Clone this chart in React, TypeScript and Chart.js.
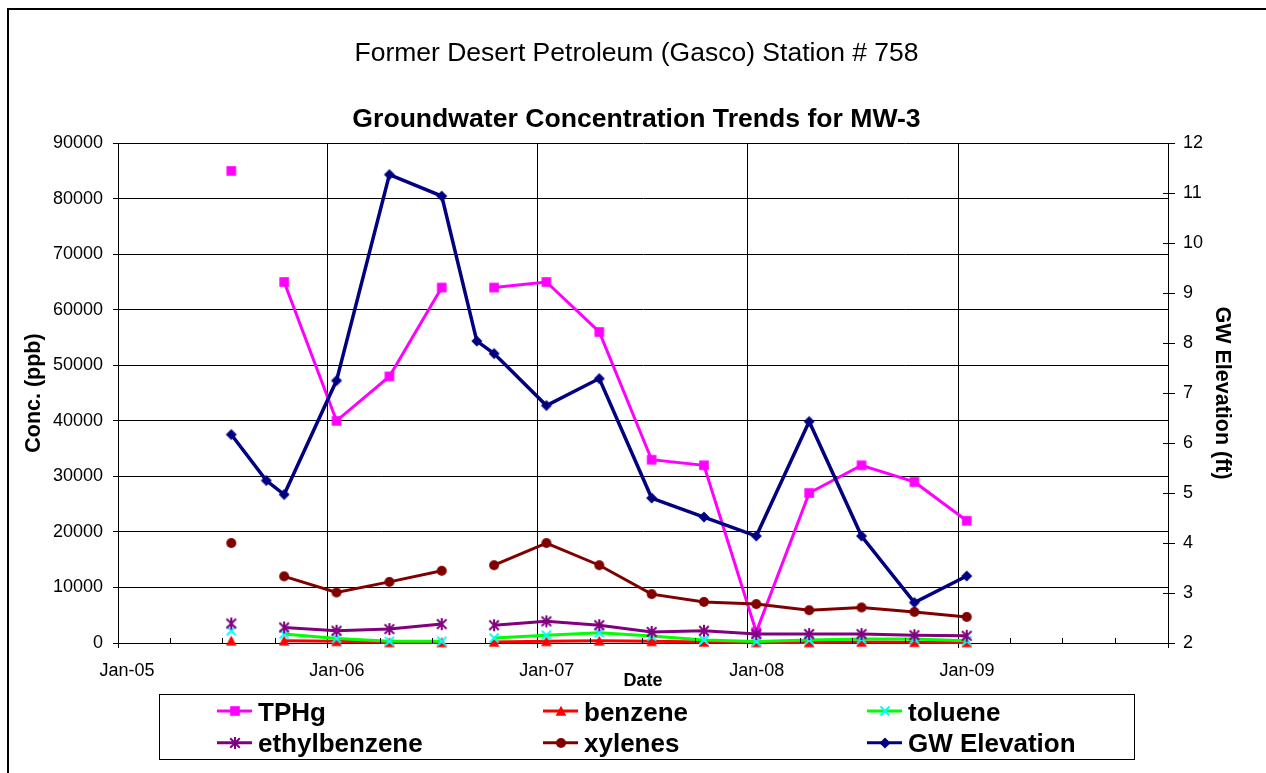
import React, { useEffect, useRef } from 'react';
import { Chart, registerables } from 'chart.js';

Chart.register(...registerables);

// ---------------- data ----------------
const TITLE = 'Former Desert Petroleum (Gasco) Station # 758';
const SUBTITLE = 'Groundwater Concentration Trends for MW-3';
const X_TITLE = 'Date';
const Y_TITLE = 'Conc. (ppb)';
const Y2_TITLE = 'GW Elevation (ft)';

const sampleDates = [
  '2005-07-17', '2005-09-16', '2005-10-17', '2006-01-16', '2006-04-18', '2006-07-18',
  '2006-09-17', '2006-10-17', '2007-01-16', '2007-04-18', '2007-07-18', '2007-10-17',
  '2008-01-16', '2008-04-17', '2008-07-17', '2008-10-17', '2009-01-16',
];

const tphg = [85000, null, 65000, 40000, 48000, 64000, null, 64000, 65000, 56000, 33000, 32000, 2000, 27000, 32000, 29000, 22000];
const benzene = [400, null, 400, 300, 100, 100, null, 200, 300, 400, 300, 200, 100, 100, 200, 150, 100];
const toluene = [2200, null, 1600, 800, 300, 300, null, 900, 1400, 1850, 1250, 550, 250, 550, 700, 700, 400];
const ethylbenzene = [3500, null, 2800, 2200, 2500, 3400, null, 3200, 3900, 3200, 2000, 2200, 1600, 1600, 1600, 1400, 1300];
const xylenes = [18000, null, 12000, 9100, 11000, 13000, null, 14000, 18000, 14000, 8800, 7400, 7000, 5900, 6400, 5600, 4700];
const gwElevation = [6.17, 5.25, 4.97, 7.25, 11.37, 10.94, 8.04, 7.79, 6.75, 7.29, 4.9, 4.52, 4.14, 6.43, 4.14, 2.81, 3.34];

const yearTicks = [2005, 2006, 2007, 2008, 2009, 2010];
const yearLabels = ['Jan-05', 'Jan-06', 'Jan-07', 'Jan-08', 'Jan-09', ''];
const quarterMonths = [3, 6, 9];

const FONT = "'Liberation Sans', Arial, Helvetica, sans-serif";

// ---------------- helpers ----------------
const toMs = (d: string) => {
  const [y, m, dd] = d.split('-').map(Number);
  return Date.UTC(y, m - 1, dd);
};

function makeMarker(kind: string, color: string): HTMLCanvasElement {
  const size = 16;
  const c = document.createElement('canvas');
  c.width = size;
  c.height = size;
  const g = c.getContext('2d')!;
  const m = size / 2;
  g.fillStyle = color;
  g.strokeStyle = color;
  g.lineCap = 'butt';
  switch (kind) {
    case 'square':
      g.fillRect(m - 4.8, m - 4.8, 9.6, 9.6);
      break;
    case 'triangle':
      g.beginPath();
      g.moveTo(m, m - 5.3);
      g.lineTo(m + 5.3, m + 4.7);
      g.lineTo(m - 5.3, m + 4.7);
      g.closePath();
      g.fill();
      break;
    case 'x':
      g.lineWidth = 2;
      g.beginPath();
      g.moveTo(m - 4.5, m - 4.5);
      g.lineTo(m + 4.5, m + 4.5);
      g.moveTo(m + 4.5, m - 4.5);
      g.lineTo(m - 4.5, m + 4.5);
      g.stroke();
      break;
    case 'asterisk':
      g.lineWidth = 2;
      g.beginPath();
      g.moveTo(m - 4.8, m - 4.8);
      g.lineTo(m + 4.8, m + 4.8);
      g.moveTo(m + 4.8, m - 4.8);
      g.lineTo(m - 4.8, m + 4.8);
      g.moveTo(m, m - 6);
      g.lineTo(m, m + 6);
      g.stroke();
      break;
    case 'circle':
      g.beginPath();
      g.arc(m, m, 5, 0, Math.PI * 2);
      g.fill();
      break;
    case 'diamond':
      g.beginPath();
      g.moveTo(m, m - 5.5);
      g.lineTo(m + 5.5, m);
      g.lineTo(m, m + 5.5);
      g.lineTo(m - 5.5, m);
      g.closePath();
      g.fill();
      break;
  }
  return c;
}

export default function App() {
  const ref = useRef<HTMLCanvasElement | null>(null);

  useEffect(() => {
    const canvas = ref.current;
    if (!canvas) return;

    const series = [
      { label: 'TPHg', values: tphg, line: '#FF00FF', marker: makeMarker('square', '#FF00FF'), axis: 'y', order: 6, width: 3 },
      { label: 'benzene', values: benzene, line: '#FF0000', marker: makeMarker('triangle', '#FF0000'), axis: 'y', order: 5, width: 3 },
      { label: 'toluene', values: toluene, line: '#00FF00', marker: makeMarker('x', '#00FFFF'), axis: 'y', order: 4, width: 3 },
      { label: 'ethylbenzene', values: ethylbenzene, line: '#800080', marker: makeMarker('asterisk', '#800080'), axis: 'y', order: 3, width: 3 },
      { label: 'xylenes', values: xylenes, line: '#800000', marker: makeMarker('circle', '#800000'), axis: 'y', order: 2, width: 3 },
      { label: 'GW Elevation', values: gwElevation, line: '#000080', marker: makeMarker('diamond', '#000080'), axis: 'y2', order: 1, width: 3.5 },
    ];

    const decor = {
      id: 'decor',
      afterDraw(chart: any) {
        const ctx = chart.ctx as CanvasRenderingContext2D;
        const { width, height } = chart;
        const xs = chart.scales.x;
        const y2 = chart.scales.y2;
        const area = chart.chartArea;
        ctx.save();
        // outer frame (left & top)
        ctx.fillStyle = '#000';
        ctx.fillRect(0, 1, width, 2);
        ctx.fillRect(0, 1, 2, height);

        // minor quarterly ticks on x axis (inside)
        ctx.strokeStyle = '#000';
        ctx.lineWidth = 1;
        ctx.beginPath();
        for (let yr = 2005; yr < 2010; yr++) {
          for (const mo of quarterMonths) {
            const px = Math.round(xs.getPixelForValue(Date.UTC(yr, mo, 1))) + 0.5;
            ctx.moveTo(px, area.bottom);
            ctx.lineTo(px, area.bottom - 5);
          }
        }
        // inner part of right-axis ticks
        for (const t of y2.ticks) {
          const py = Math.round(y2.getPixelForValue(t.value)) + 0.5;
          ctx.moveTo(area.right - 5, py);
          ctx.lineTo(area.right, py);
        }
        ctx.stroke();

        // legend
        const bx = 152, by = 687, bw = 975, bh = 65;
        ctx.strokeStyle = '#000';
        ctx.lineWidth = 1;
        ctx.strokeRect(bx + 0.5, by + 0.5, bw, bh);
        const colX = [210, 536, 860];
        const rowY = [704, 735.7];
        const rowBase = [713.7, 745.4];
        ctx.font = `bold 26px ${FONT}`;
        ctx.textBaseline = 'alphabetic';
        ctx.textAlign = 'left';
        series.forEach((s, i) => {
          const c = i % 3;
          const r = Math.floor(i / 3);
          const lx = colX[c];
          const ly = rowY[r];
          ctx.strokeStyle = s.line;
          ctx.lineWidth = 3;
          ctx.beginPath();
          ctx.moveTo(lx, ly);
          ctx.lineTo(lx + 35, ly);
          ctx.stroke();
          ctx.drawImage(s.marker, Math.round(lx + 17.5 - s.marker.width / 2), Math.round(ly - s.marker.height / 2));
          ctx.fillStyle = '#000';
          ctx.fillText(s.label, lx + 41, rowBase[r]);
        });
        ctx.restore();
      },
    };

    const chart = new Chart(canvas, {
      type: 'line',
      data: {
        datasets: series.map((s) => ({
          label: s.label,
          data: sampleDates.map((d, i) => ({ x: toMs(d), y: s.values[i] })),
          yAxisID: s.axis,
          order: s.order,
          borderColor: s.line,
          backgroundColor: s.line,
          borderWidth: s.width,
          tension: 0,
          spanGaps: false,
          clip: false as any,
          pointStyle: s.marker as any,
          pointRadius: 5,
          pointHoverRadius: 5,
        })),
      },
      options: {
        responsive: false,
        animation: false,
        devicePixelRatio: 1,
        events: [],
        layout: { padding: { left: 0, right: 0, top: 0, bottom: 80 } },
        plugins: {
          legend: { display: false },
          tooltip: { enabled: false },
          title: {
            display: true,
            text: TITLE,
            color: '#000',
            font: { family: FONT, size: 26.5, weight: 'normal', lineHeight: 1.2 },
            padding: { top: 31.2, bottom: 0 },
          },
          subtitle: {
            display: true,
            text: SUBTITLE,
            color: '#000',
            font: { family: FONT, size: 26.6, weight: 'bold', lineHeight: 1.2 },
            padding: { top: 33.6, bottom: 7.6 },
          },
        },
        scales: {
          x: {
            type: 'linear',
            position: 'bottom',
            min: Date.UTC(2005, 0, 1),
            max: Date.UTC(2010, 0, 1),
            afterBuildTicks: (s: any) => {
              s.ticks = yearTicks.map((y) => ({ value: Date.UTC(y, 0, 1) }));
            },
            afterFit: (s: any) => {
              s.height = 50;
            },
            ticks: {
              callback: (_v: any, i: number) => yearLabels[i],
              font: { family: FONT, size: 18 },
              color: '#000',
              padding: 12.7,
              labelOffset: 9,
              maxRotation: 0,
              minRotation: 0,
              autoSkip: false,
            },
            grid: { color: '#000', lineWidth: 1, tickLength: 5 },
            border: { color: '#000', width: 1 },
            title: {
              display: true,
              text: X_TITLE,
              color: '#000',
              font: { family: FONT, size: 18, weight: 'bold', lineHeight: 1.2 },
              padding: { top: 0, bottom: 1.3 },
            },
          },
          y: {
            position: 'left',
            min: 0,
            max: 90000,
            afterFit: (s: any) => {
              s.width = 111;
            },
            ticks: {
              stepSize: 10000,
              callback: (v: any) => String(v),
              font: { family: FONT, size: 18 },
              color: '#000',
              padding: 10,
            },
            grid: { color: '#000', lineWidth: 1, tickLength: 5 },
            border: { color: '#000', width: 1 },
            title: {
              display: true,
              text: Y_TITLE,
              color: '#000',
              font: { family: FONT, size: 21.5, weight: 'bold', lineHeight: 1.2 },
              padding: { top: 14.1, bottom: 0 },
            },
          },
          y2: {
            position: 'right',
            min: 2,
            max: 12,
            afterFit: (s: any) => {
              s.width = 98;
            },
            ticks: {
              stepSize: 1,
              font: { family: FONT, size: 18 },
              color: '#000',
              padding: 8,
            },
            grid: { drawOnChartArea: false, color: '#000', lineWidth: 1, tickLength: 7 },
            border: { color: '#000', width: 1 },
            title: {
              display: true,
              text: Y2_TITLE,
              color: '#000',
              font: { family: FONT, size: 21.5, weight: 'bold', lineHeight: 1.2 },
              padding: { top: 31.1, bottom: 0 },
            },
          },
        },
      } as any,
      plugins: [decor],
    });

    return () => chart.destroy();
  }, []);

  return (
    <canvas
      ref={ref}
      width={1259}
      height={766}
      style={{ position: 'absolute', left: 7, top: 7, width: 1259, height: 766, display: 'block' }}
    />
  );
}
